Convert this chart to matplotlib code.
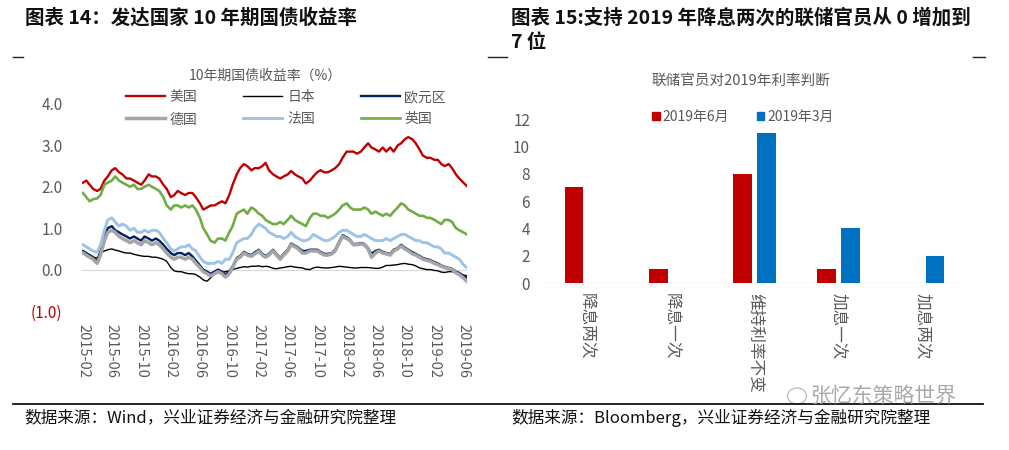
import matplotlib
matplotlib.use("Agg")
import matplotlib.pyplot as plt
import matplotlib.dates as mdates
from matplotlib.lines import Line2D
from matplotlib.patches import Patch, Ellipse
import pandas as pd
import numpy as np

plt.rcParams['font.family'] = ['Noto Sans CJK SC', 'DejaVu Sans']

# ---------------- data: left chart (semi-monthly readings) ----------------
us = [2.10, 2.15, 2.05, 1.95, 1.90, 1.95, 2.15, 2.25, 2.40, 2.45,
      2.35, 2.30, 2.20, 2.20, 2.15, 2.10, 2.05, 2.15, 2.30, 2.25,
      2.25, 2.20, 2.05, 1.95, 1.75, 1.80, 1.90, 1.85, 1.80, 1.85,
      1.85, 1.75, 1.60, 1.45, 1.50, 1.55, 1.55, 1.60, 1.65, 1.60,
      1.80, 2.05, 2.30, 2.45, 2.55, 2.50, 2.40, 2.45, 2.45, 2.50,
      2.58, 2.40, 2.30, 2.25, 2.20, 2.25, 2.30, 2.38, 2.30, 2.25,
      2.20, 2.08, 2.15, 2.25, 2.35, 2.40, 2.35, 2.35, 2.40, 2.45,
      2.55, 2.70, 2.85, 2.85, 2.85, 2.80, 2.85, 2.95, 3.05, 2.95,
      2.90, 2.85, 2.95, 2.85, 2.95, 2.85, 3.00, 3.05, 3.15, 3.20,
      3.15, 3.05, 2.90, 2.75, 2.70, 2.70, 2.65, 2.65, 2.55, 2.50,
      2.55, 2.45, 2.30, 2.20, 2.10, 2.02]
japan = [0.40, 0.38, 0.35, 0.30, 0.28, 0.40, 0.45, 0.48, 0.50, 0.47,
         0.45, 0.42, 0.40, 0.40, 0.37, 0.35, 0.33, 0.32, 0.32, 0.30,
         0.30, 0.28, 0.25, 0.20, 0.05, -0.03, -0.05, -0.05, -0.08, -0.10,
         -0.10, -0.12, -0.18, -0.25, -0.28, -0.20, -0.10, -0.07, -0.06, -0.05,
         -0.03, 0.00, 0.03, 0.05, 0.07, 0.06, 0.08, 0.08, 0.09, 0.07,
         0.08, 0.07, 0.03, 0.02, 0.04, 0.05, 0.07, 0.08, 0.06, 0.05,
         0.04, 0.01, 0.00, 0.04, 0.06, 0.05, 0.04, 0.04, 0.05, 0.06,
         0.08, 0.07, 0.06, 0.05, 0.04, 0.04, 0.05, 0.05, 0.05, 0.04,
         0.03, 0.03, 0.06, 0.10, 0.10, 0.11, 0.12, 0.14, 0.15, 0.13,
         0.12, 0.09, 0.04, 0.02, 0.00, 0.00, -0.02, -0.03, -0.06, -0.07,
         -0.05, -0.05, -0.08, -0.10, -0.13, -0.15]
euro = [0.45, 0.40, 0.35, 0.30, 0.20, 0.45, 0.80, 1.00, 1.05, 0.95,
        0.90, 0.85, 0.80, 0.75, 0.80, 0.75, 0.70, 0.80, 0.75, 0.70,
        0.75, 0.70, 0.60, 0.50, 0.40, 0.35, 0.40, 0.40, 0.35, 0.40,
        0.32, 0.22, 0.10, 0.00, -0.05, -0.10, -0.05, 0.00, -0.05, -0.12,
        -0.05, 0.08, 0.28, 0.33, 0.43, 0.38, 0.35, 0.42, 0.48, 0.38,
        0.33, 0.38, 0.48, 0.38, 0.28, 0.38, 0.48, 0.63, 0.58, 0.53,
        0.45, 0.45, 0.48, 0.48, 0.48, 0.43, 0.38, 0.38, 0.40, 0.48,
        0.68, 0.83, 0.78, 0.72, 0.62, 0.62, 0.64, 0.62, 0.52, 0.38,
        0.45, 0.48, 0.43, 0.40, 0.38, 0.48, 0.52, 0.60, 0.53, 0.48,
        0.42, 0.38, 0.33, 0.28, 0.25, 0.23, 0.18, 0.15, 0.10, 0.07,
        0.04, 0.02, -0.05, -0.08, -0.15, -0.20]
germany = [0.40, 0.35, 0.30, 0.25, 0.15, 0.35, 0.70, 0.90, 0.95, 0.90,
           0.80, 0.75, 0.70, 0.65, 0.70, 0.65, 0.60, 0.70, 0.65, 0.60,
           0.65, 0.60, 0.50, 0.40, 0.30, 0.25, 0.30, 0.30, 0.25, 0.30,
           0.25, 0.15, 0.05, -0.05, -0.10, -0.15, -0.10, -0.05, -0.10, -0.18,
           -0.10, 0.05, 0.25, 0.30, 0.40, 0.35, 0.32, 0.38, 0.45, 0.35,
           0.30, 0.35, 0.45, 0.35, 0.25, 0.35, 0.45, 0.60, 0.55, 0.50,
           0.40, 0.40, 0.45, 0.45, 0.45, 0.40, 0.35, 0.35, 0.38, 0.45,
           0.65, 0.80, 0.75, 0.70, 0.60, 0.60, 0.62, 0.60, 0.50, 0.30,
           0.40, 0.45, 0.40, 0.38, 0.35, 0.45, 0.50, 0.57, 0.50, 0.45,
           0.38, 0.35, 0.30, 0.25, 0.22, 0.20, 0.15, 0.12, 0.08, 0.05,
           0.02, 0.00, -0.08, -0.12, -0.20, -0.28]
france = [0.60, 0.55, 0.50, 0.45, 0.42, 0.60, 0.95, 1.20, 1.25, 1.15,
          1.05, 1.10, 1.05, 0.95, 1.00, 0.90, 0.90, 0.95, 0.90, 0.95,
          0.95, 0.90, 0.75, 0.65, 0.50, 0.45, 0.50, 0.55, 0.55, 0.60,
          0.50, 0.45, 0.30, 0.20, 0.15, 0.15, 0.15, 0.20, 0.15, 0.25,
          0.25, 0.40, 0.65, 0.70, 0.75, 0.75, 0.85, 1.00, 1.10, 1.05,
          1.00, 0.90, 0.85, 0.80, 0.80, 0.75, 0.80, 0.90, 0.80, 0.75,
          0.70, 0.70, 0.75, 0.85, 0.80, 0.75, 0.70, 0.70, 0.75, 0.80,
          0.90, 0.95, 0.95, 0.90, 0.85, 0.80, 0.80, 0.85, 0.80, 0.75,
          0.70, 0.70, 0.70, 0.75, 0.70, 0.75, 0.80, 0.85, 0.85, 0.80,
          0.75, 0.70, 0.70, 0.65, 0.65, 0.60, 0.55, 0.55, 0.50, 0.40,
          0.40, 0.35, 0.30, 0.25, 0.12, 0.05]
uk = [1.85, 1.75, 1.65, 1.70, 1.72, 1.80, 2.05, 2.10, 2.15, 2.25,
      2.15, 2.10, 2.05, 2.00, 2.05, 1.95, 1.95, 2.00, 2.05, 2.00,
      1.95, 1.90, 1.75, 1.55, 1.45, 1.55, 1.55, 1.50, 1.55, 1.50,
      1.55, 1.45, 1.25, 1.00, 0.85, 0.70, 0.65, 0.75, 0.75, 0.70,
      0.90, 1.05, 1.35, 1.40, 1.45, 1.35, 1.50, 1.45, 1.35, 1.30,
      1.20, 1.15, 1.10, 1.10, 1.15, 1.10, 1.20, 1.30, 1.20, 1.15,
      1.10, 1.05, 1.25, 1.35, 1.35, 1.30, 1.30, 1.25, 1.30, 1.35,
      1.45, 1.55, 1.60, 1.50, 1.45, 1.45, 1.45, 1.50, 1.45, 1.35,
      1.40, 1.35, 1.30, 1.35, 1.30, 1.40, 1.50, 1.60, 1.55, 1.45,
      1.40, 1.35, 1.30, 1.30, 1.25, 1.25, 1.20, 1.15, 1.10, 1.20,
      1.20, 1.15, 1.00, 0.95, 0.90, 0.85]
dates = pd.date_range('2015-02-01', periods=len(us), freq='SMS')

series_names = ['美国', '日本', '欧元区', '德国', '法国', '英国']
series_values = [us, japan, euro, germany, france, uk]
series_colors = ['#C00000', '#000000', '#002060', '#A5A5A5', '#9DC3E6', '#70AD47']
series_widths = [1.7, 1.0, 1.7, 2.5, 2.1, 1.9]

y_ticks_left = [-1.0, 0.0, 1.0, 2.0, 3.0, 4.0]
y_labels_left = ['(1.0)', '0.0', '1.0', '2.0', '3.0', '4.0']

# ---------------- data: right chart ----------------
categories = ['降息两次', '降息一次', '维持利率不变', '加息一次', '加息两次']
jun_2019 = [7, 1, 8, 1, 0]
mar_2019 = [0, 0, 11, 4, 2]
bar_labels = ['2019年6月', '2019年3月']

GRAY = '#595959'

fig = plt.figure(figsize=(10.09, 4.5), dpi=100)
W, H = 1009.0, 450.0

def fx(x):
    return x / W

def fy(y):
    return 1 - y / H

# ---------------- left chart ----------------
axL = fig.add_axes([fx(82), fy(311), fx(385), 207 / H])
handles = []
for name, vals, col, lw in zip(series_names, series_values, series_colors, series_widths):
    h, = axL.plot(dates, vals, color=col, lw=lw, label=name, solid_joinstyle='round')
    handles.append(h)
axL.axhline(0, color='#D9D9D9', lw=0.9, zorder=0)
axL.set_ylim(-1.0, 4.0)
axL.set_xlim(pd.Timestamp('2015-01-28'), pd.Timestamp('2019-06-16'))
axL.set_yticks(y_ticks_left)
axL.set_yticklabels(y_labels_left)
for t in axL.get_yticklabels():
    t.set_color('#C00000' if t.get_text().startswith('(') else GRAY)
axL.xaxis.set_major_locator(mdates.MonthLocator(bymonth=[2, 6, 10]))
axL.xaxis.set_major_formatter(mdates.DateFormatter('%Y-%m'))
axL.tick_params(axis='y', length=0, pad=14, labelsize=11)
axL.tick_params(axis='x', length=0, pad=9, labelsize=10.5, labelcolor=GRAY, labelrotation=270)
for s in axL.spines.values():
    s.set_visible(False)

fig.text(fx(265), fy(76), '10年期国债收益率（%）', ha='center', va='center',
         fontsize=10, color=GRAY)
# legend is filled column by column: reorder so rows read 美国 日本 欧元区 / 德国 法国 英国
leg_order = [0, 3, 1, 4, 2, 5]
fig.legend(handles=[handles[i] for i in leg_order], ncol=3, loc='upper left',
           bbox_to_anchor=(fx(126), fy(90)), frameon=False, fontsize=10,
           handlelength=2.8, handletextpad=0.35, columnspacing=3.3,
           labelspacing=0.6, borderpad=0, borderaxespad=0, labelcolor=GRAY)

# ---------------- right chart ----------------
axR = fig.add_axes([fx(544), fy(283), fx(421), 164 / H])
xpos = np.arange(len(categories))
bw = 0.22
axR.bar(xpos - 0.143, jun_2019, width=bw, color='#C00000', label=bar_labels[0])
axR.bar(xpos + 0.143, mar_2019, width=bw, color='#0070C0', label=bar_labels[1])
axR.axhline(0, color='#D9D9D9', lw=0.9, zorder=0)
axR.set_xlim(-0.5, len(categories) - 0.5)
axR.set_ylim(0, 12)
axR.set_yticks(range(0, 13, 2))
axR.set_xticks(xpos)
axR.set_xticklabels(categories)
axR.tick_params(axis='y', length=0, pad=10, labelsize=11, labelcolor=GRAY)
axR.tick_params(axis='x', length=0, pad=7, labelsize=12, labelcolor=GRAY, labelrotation=270)
for s in axR.spines.values():
    s.set_visible(False)

fig.text(fx(741), fy(81), '联储官员对2019年利率判断', ha='center', va='center',
         fontsize=10.5, color=GRAY)
lh = [Patch(color='#C00000'), Patch(color='#0070C0')]
fig.legend(handles=lh, labels=bar_labels, ncol=2, loc='center left',
           bbox_to_anchor=(fx(652), fy(117)), frameon=False, fontsize=10,
           handlelength=0.55, handleheight=0.55, handletextpad=0.2,
           columnspacing=2.0, borderpad=0, borderaxespad=0, labelcolor=GRAY)

# ---------------- titles, rules, sources ----------------
fig.text(fx(25), fy(18), '图表 14：发达国家 10 年期国债收益率', ha='left', va='center',
         fontsize=14, fontweight='bold', color='#111111')
fig.text(fx(511), fy(18), '图表 15:支持 2019 年降息两次的联储官员从 0 增加到', ha='left',
         va='center', fontsize=14, fontweight='bold', color='#111111')
fig.text(fx(511), fy(43), '7 位', ha='left', va='center',
         fontsize=14, fontweight='bold', color='#111111')

for (x0, x1) in [(13, 23), (488, 507), (973, 985)]:
    fig.add_artist(Line2D([fx(x0), fx(x1)], [fy(57), fy(57)], color='#222222', lw=1.0))
fig.add_artist(Line2D([fx(13), fx(983)], [fy(404), fy(404)], color='#111111', lw=1.3))

fig.text(fx(24), fy(418), '数据来源：Wind，兴业证券经济与金融研究院整理', ha='left', va='center',
         fontsize=12, color='#111111')
fig.text(fx(511), fy(418), '数据来源：Bloomberg，兴业证券经济与金融研究院整理', ha='left',
         va='center', fontsize=12, color='#111111')

# watermark
fig.add_artist(Ellipse((fx(797), fy(396)), fx(19), 16 / H, fill=False,
                       edgecolor='#B0B0B0', lw=1.0, alpha=0.8))
fig.text(fx(810), fy(396), '张忆东策略世界', ha='left', va='center', fontsize=15,
         color='#9A9A9A', alpha=0.85)

fig.savefig('out.png', dpi=100)
